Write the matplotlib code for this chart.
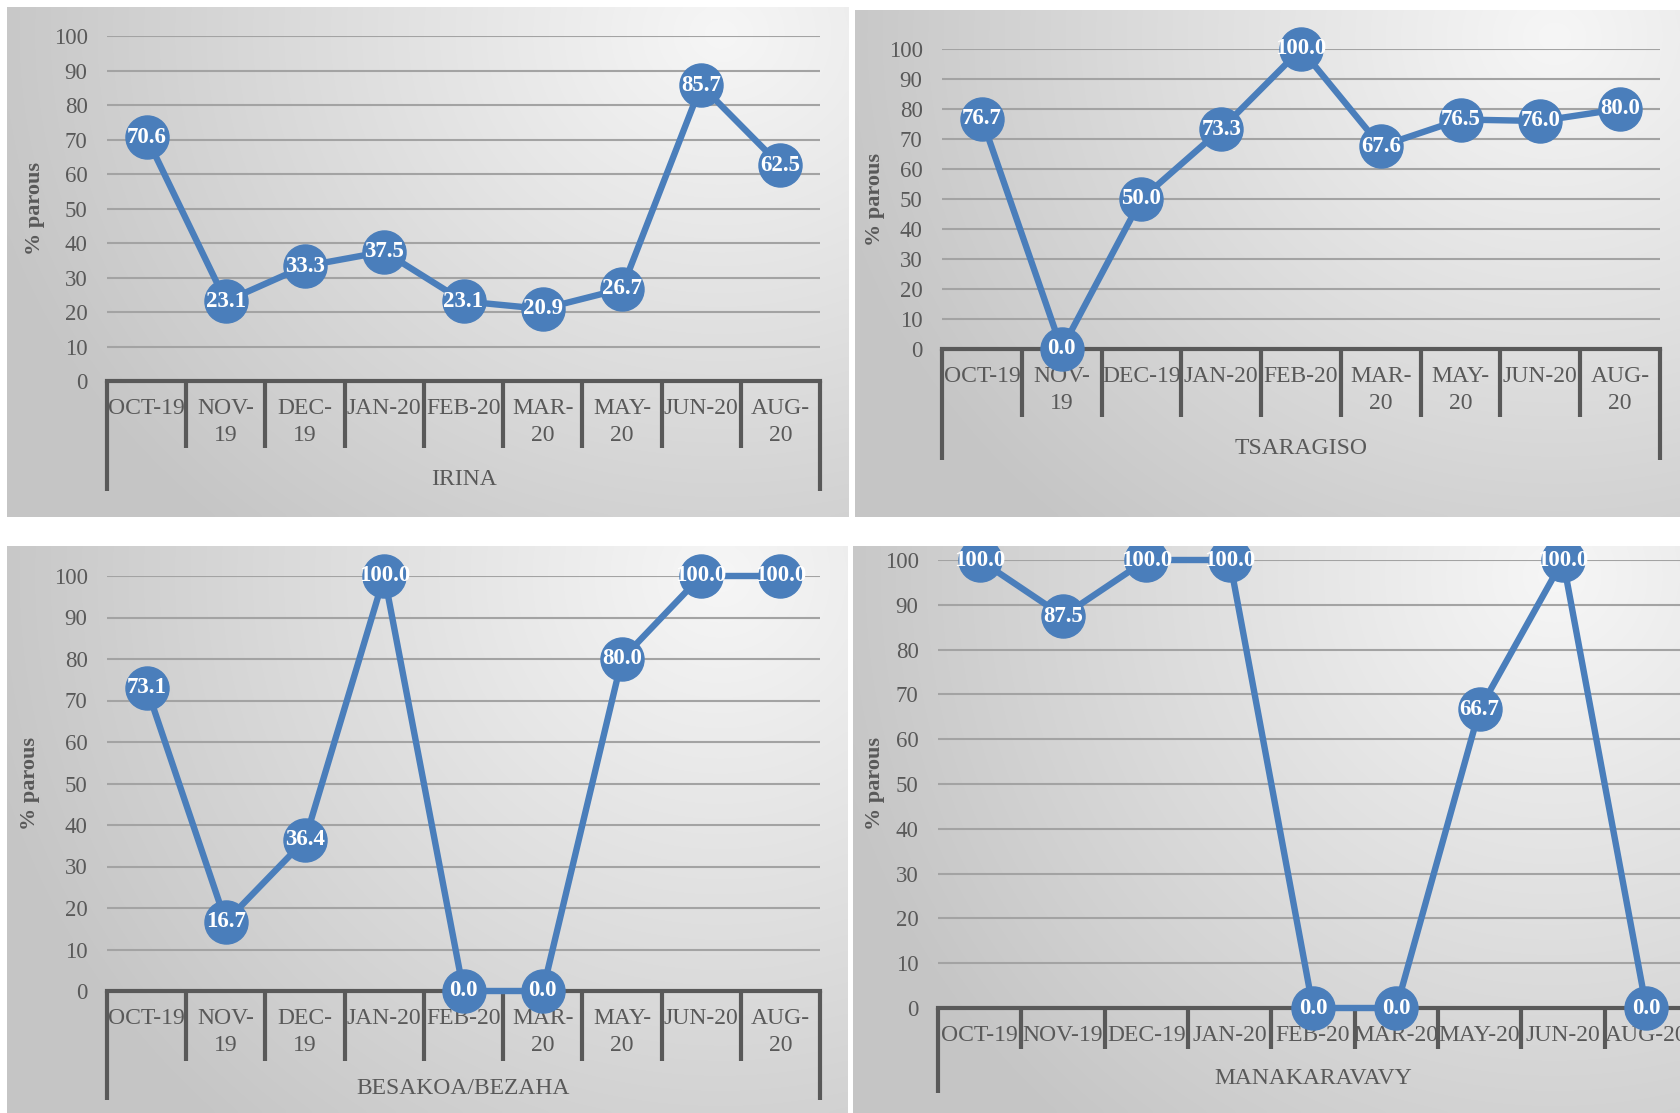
import numpy as np
import matplotlib
matplotlib.use("Agg")
import matplotlib.pyplot as plt

W, H, DPI = 1680, 1113, 100

# Category labels (wrapped where the column is too narrow)
months_wrap_a = ["OCT-19", "NOV-\n19", "DEC-\n19", "JAN-20", "FEB-20",
                 "MAR-\n20", "MAY-\n20", "JUN-20", "AUG-\n20"]
months_wrap_b = ["OCT-19", "NOV-\n19", "DEC-19", "JAN-20", "FEB-20",
                 "MAR-\n20", "MAY-\n20", "JUN-20", "AUG-\n20"]
months_flat = ["OCT-19", "NOV-19", "DEC-19", "JAN-20", "FEB-20",
               "MAR-20", "MAY-20", "JUN-20", "AUG-20"]

# % parous per site and month
irina = [70.6, 23.1, 33.3, 37.5, 23.1, 20.9, 26.7, 85.7, 62.5]
tsaragiso = [76.7, 0.0, 50.0, 73.3, 100.0, 67.6, 76.5, 76.0, 80.0]
besakoa = [73.1, 16.7, 36.4, 100.0, 0.0, 0.0, 80.0, 100.0, 100.0]
manakaravavy = [100.0, 87.5, 100.0, 100.0, 0.0, 0.0, 66.7, 100.0, 0.0]

sites = ["IRINA", "TSARAGISO", "BESAKOA/BEZAHA", "MANAKARAVAVY"]
yticks = list(range(0, 101, 10))

BLUE = "#4a7ebb"
GREY_TXT = "#595959"
AXIS_DARK = "#595959"
GRID = "#a3a3a3"
SERIF = ["Liberation Serif", "DejaVu Serif"]

# Panel geometry in pixels (panel box, plot box, label rows)
panels = [
    dict(name=sites[0], vals=irina, labels=months_wrap_a,
         bg=(7, 7, 849, 517), L=107, R=820, top=36, bot=381,
         sep=448, outer=491, group_y=479, ylab_x=35),
    dict(name=sites[1], vals=tsaragiso, labels=months_wrap_b,
         bg=(855, 10, 1680, 517), L=942, R=1660, top=49, bot=349,
         sep=417, outer=460, group_y=448, ylab_x=875),
    dict(name=sites[2], vals=besakoa, labels=months_wrap_a,
         bg=(7, 546, 848, 1113), L=107, R=820, top=576, bot=991,
         sep=1061, outer=1100, group_y=1088, ylab_x=30),
    dict(name=sites[3], vals=manakaravavy, labels=months_flat,
         bg=(853, 546, 1680, 1113), L=938, R=1688, top=560, bot=1008,
         sep=1049, outer=1093, group_y=1079, ylab_x=875),
]


def radial_fill(nx, ny):
    u = np.linspace(0, 1, nx)
    v = np.linspace(0, 1, ny)
    U, V = np.meshgrid(u, v)
    d = np.sqrt(((U - 0.85) / 0.9) ** 2 + ((V - 0.05) / 1.3) ** 2)
    g = 0.965 - 0.19 * np.clip(d, 0, 1)
    return np.dstack([g, g, g])


def fig_rect(x0, y0, x1, y1):
    return [x0 / W, 1 - y1 / H, (x1 - x0) / W, (y1 - y0) / H]


fig = plt.figure(figsize=(W / DPI, H / DPI), dpi=DPI, facecolor="white")

for p in panels:
    bx0, by0, bx1, by1 = p["bg"]
    bgax = fig.add_axes(fig_rect(bx0, by0, bx1, by1))
    bgax.imshow(radial_fill(200, 140), extent=(0, 1, 0, 1), aspect="auto",
                interpolation="bicubic")
    bgax.set_xlim(0, 1)
    bgax.set_ylim(0, 1)
    bgax.axis("off")

    L, R, top, bot = p["L"], p["R"], p["top"], p["bot"]
    ax = fig.add_axes(fig_rect(L, top, R, bot))
    ax.patch.set_alpha(0)
    n = len(p["vals"])
    ax.set_xlim(-0.5, n - 0.5)
    ax.set_ylim(0, 100)
    ph = bot - top

    def frac(ypix):
        return (bot - ypix) / ph

    for s in ("top", "right", "left"):
        ax.spines[s].set_visible(False)
    ax.spines["bottom"].set_color(AXIS_DARK)
    ax.spines["bottom"].set_linewidth(3)
    ax.spines["bottom"].set_zorder(2.5)

    ax.set_yticks(yticks)
    ax.set_yticklabels([str(t) for t in yticks], family=SERIF, fontsize=16.5,
                       color=GREY_TXT)
    ax.tick_params(axis="y", length=0, pad=14)
    ax.yaxis.grid(True, color=GRID, linewidth=1.5)
    ax.set_axisbelow(True)

    ax.set_xticks(range(n))
    ax.set_xticklabels(p["labels"], family=SERIF, fontsize=17, color=GREY_TXT,
                       linespacing=1.36)
    ax.tick_params(axis="x", length=0, pad=12.5)

    xt = ax.get_xaxis_transform()
    inner = [i + 0.5 for i in range(n - 1)]
    ax.vlines(inner, frac(p["sep"]), 0, transform=xt, colors=AXIS_DARK,
              linewidth=3, clip_on=False)
    ax.vlines([-0.5, n - 0.5], frac(p["outer"]), 0, transform=xt,
              colors=AXIS_DARK, linewidth=3, clip_on=False)

    ax.text((n - 1) / 2, frac(p["group_y"]), p["name"], transform=xt,
            ha="center", va="center", family=SERIF, fontsize=17,
            color=GREY_TXT)

    ax.set_ylabel("% parous", family=SERIF, fontsize=16, fontweight="bold",
                  color=GREY_TXT, va="center")
    ax.yaxis.set_label_coords((p["ylab_x"] - L) / (R - L), 0.5)

    line, = ax.plot(range(n), p["vals"], color=BLUE, linewidth=4.6,
                    marker="o", markersize=31, markerfacecolor=BLUE,
                    markeredgecolor=BLUE, zorder=3)
    line.set_clip_path(bgax.patch)
    for i, v in enumerate(p["vals"]):
        t = ax.text(i, v, f"{v:.1f}", ha="center", va="center",
                    family=SERIF, fontsize=16.5, fontweight="bold",
                    color="white", zorder=4, clip_on=True)
        t.set_clip_path(bgax.patch)

fig.savefig("out.png", dpi=DPI, facecolor="white")
